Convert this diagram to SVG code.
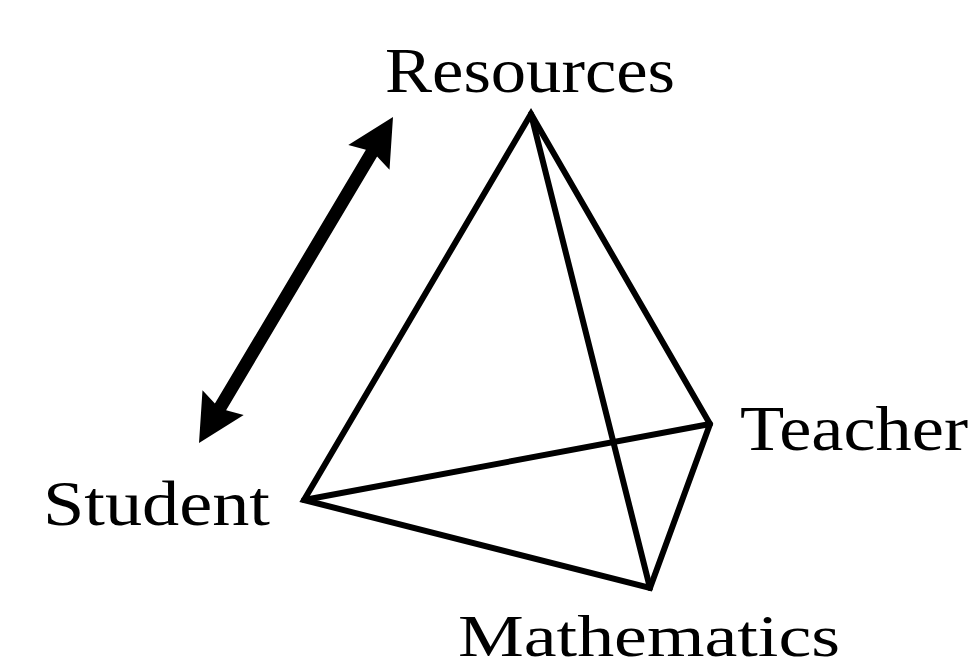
<svg xmlns="http://www.w3.org/2000/svg" width="975" height="670" viewBox="0 0 975 670">
<style>
.lbl{font-family:"Liberation Serif","DejaVu Serif",serif;font-size:64px;fill:#000}
.edge{stroke:#000;stroke-width:6;fill:none;stroke-linecap:round;stroke-linejoin:miter;stroke-miterlimit:10}
</style>
<rect width="975" height="670" fill="#fff"/>
<g id="connectors">
<path class="edge" d="M304,500 L531,114 L710,424 L650,588 Z"/>
<path class="edge" d="M531,114 L650,588"/>
<path class="edge" d="M304,500 L710,424"/>
<polygon id="double-arrow" fill="#000" points="393,117 389.5,169.7 377.1,156.4 226.1,410.2 243.7,414.9 199,443 202.5,390.3 214.9,403.6 365.9,149.8 348.3,145.1"/>
</g>
<g id="resources"><text class="lbl" x="385" y="92" textLength="290" lengthAdjust="spacingAndGlyphs">Resources</text></g>
<g id="student"><text class="lbl" x="43" y="525" textLength="227" lengthAdjust="spacingAndGlyphs">Student</text></g>
<g id="teacher"><text class="lbl" x="740" y="450" textLength="228" lengthAdjust="spacingAndGlyphs">Teacher</text></g>
<g id="mathematics"><text class="lbl" x="458" y="656" style="font-size:59px" textLength="382" lengthAdjust="spacingAndGlyphs">Mathematics</text></g>
</svg>
